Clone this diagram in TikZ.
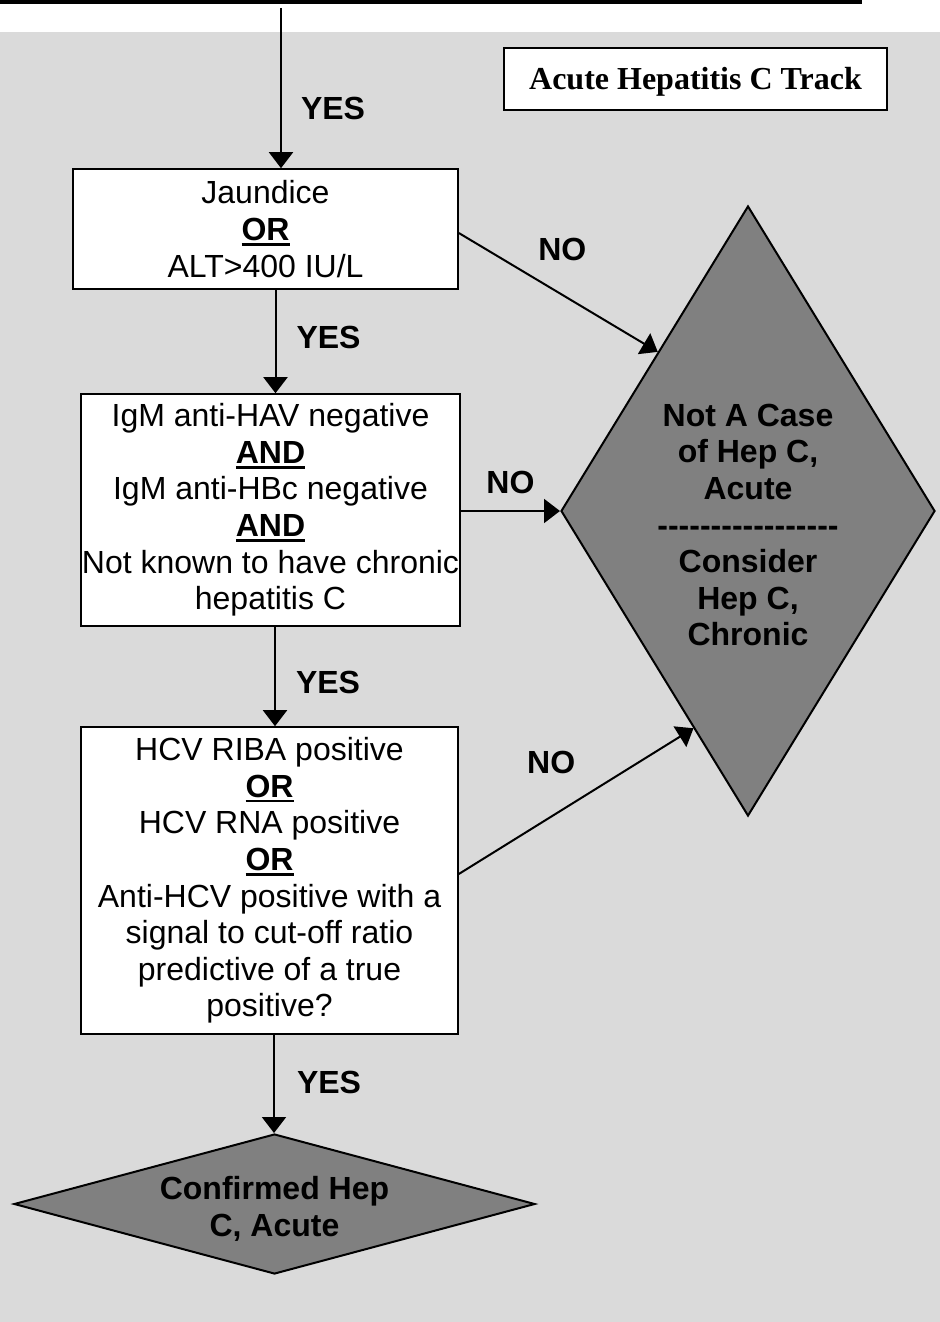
\documentclass[tikz,border=0pt]{standalone}
\usepackage{fontspec}
\setmainfont{Liberation Sans}
\newfontfamily\titlefont{Liberation Serif}
\usetikzlibrary{arrows.meta, positioning, shapes.geometric, calc}
\definecolor{marble}{HTML}{DADADA}
\definecolor{outcomegray}{HTML}{808080}
\newcommand{\boxfont}{\fontsize{16pt}{18.3pt}\selectfont}
\newcommand{\connective}[1]{\setbox0\hbox{\bfseries #1}\rlap{\rule[-2.6pt]{\wd0}{1.2pt}}\box0}
\newcommand{\dashrow}{\foreach \k in {1,...,17}{\hbox{-}}}

\begin{document}
\begin{tikzpicture}[
    x=0.5pt, y=-0.5pt,
    every node/.style={font=\boxfont},
    test/.style={
        rectangle,
        draw,
        fill=white,
        line width=0.8pt,
        inner sep=0pt,
        align=center
    },
    outcome/.style={
        diamond,
        draw,
        fill=outcomegray,
        line width=1pt,
        inner sep=0pt,
        align=center,
        font=\boxfont\bfseries
    },
    answer/.style={font=\boxfont\bfseries, inner sep=0pt, align=center},
    arrow/.style={line width=1pt, -{Triangle[length=8pt, width=12pt]}}
]

\useasboundingbox (0,0) rectangle (940,1322);
\fill[marble] (0,32) rectangle (940,1322);
\draw[line width=1.8pt] (0,2) -- (862,2);

\node[draw, fill=white, line width=1.4pt, minimum width=191.5pt, minimum height=31pt,
      text height=10.6pt, text depth=0pt,
      font=\titlefont\bfseries\fontsize{16pt}{18pt}\selectfont] (title) at (695.5,79) {Acute Hepatitis C Track};

\node[test, minimum width=192.5pt, minimum height=60pt] (jaundice) at (265.5,229)
    {Jaundice\\\connective{OR}\\ALT>400 IU/L};
\node[test, minimum width=189.5pt, minimum height=116pt] (antibody) at (270.5,510)
    {IgM anti-HAV negative\\\connective{AND}\\IgM anti-HBc negative\\\connective{AND}\\Not known to have chronic\\hepatitis C};
\node[test, minimum width=188.5pt, minimum height=153.5pt] (hcv) at (269.5,880.5)
    {HCV RIBA positive\\\connective{OR}\\HCV RNA positive\\\connective{OR}\\Anti-HCV positive with a\\signal to cut-off ratio\\predictive of a true\\positive?};

\node[outcome, minimum width=187pt, minimum height=305pt] (notcase) at (748,511) {};
\node[answer] (notcasetext) at (748,525)
    {Not A Case\\of Hep C,\\Acute\\\dashrow\\Consider\\Hep C,\\Chronic};
\node[outcome, aspect=3.7, minimum width=260.5pt, minimum height=70pt, text height=34.5pt] (confirmed) at (274.5,1204)
    {Confirmed Hep\\C, Acute};

% YES branches
\coordinate (entry) at (281,8);
\coordinate (link2) at ([xshift=5pt]jaundice.south);
\coordinate (link3) at ([xshift=2.25pt]antibody.south);
\coordinate (link4) at ([xshift=2.25pt]hcv.south);
\draw[arrow] (entry) -- node[answer, pos=0.63, right=9.5pt] (yes1) {YES} (entry |- jaundice.north);
\draw[arrow] (link2) -- node[answer, pos=0.46, right=10pt] (yes2) {YES} (link2 |- antibody.north);
\draw[arrow] (link3) -- node[answer, pos=0.56, right=10pt] (yes3) {YES} (link3 |- hcv.north);
\draw[arrow] (link4) -- node[answer, pos=0.49, right=11pt] (yes4) {YES} (link4 |- confirmed.north);

% NO branches
\draw[arrow] ([yshift=-2pt]jaundice.east) -- node[answer, above=15.5pt, xshift=2pt] (no1) {NO}
    ($(notcase.west)!0.52!(notcase.north)$);
\draw[arrow] (antibody.east |- notcase.west) -- node[answer, above=8pt] (no2) {NO} (notcase.west);
\draw[arrow] ([yshift=3.25pt]hcv.east) -- node[answer, above=13pt, xshift=-12.5pt] (no3) {NO}
    ($(notcase.west)!0.71!(notcase.south)$);

\end{tikzpicture}
\end{document}
